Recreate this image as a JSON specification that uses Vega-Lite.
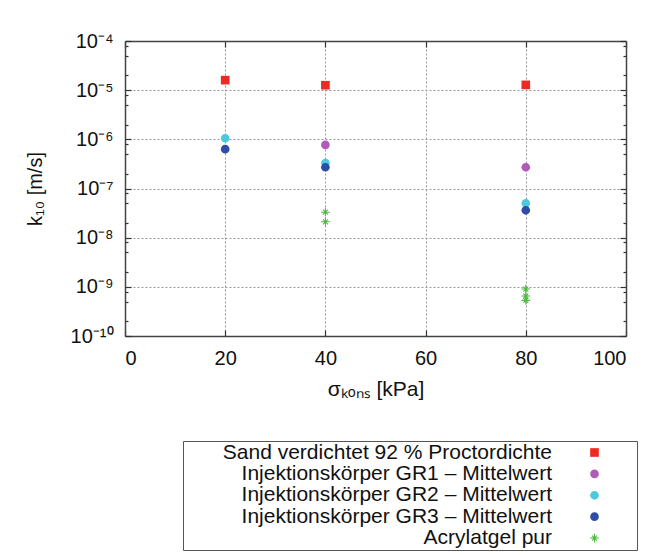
{
  "$schema": "https://vega.github.io/schema/vega-lite/v6.json",
  "width": 501,
  "height": 295,
  "autosize": {"type": "none"},
  "padding": {"left": 125, "top": 41, "right": 26, "bottom": 219},
  "background": "white",
  "config": {
    "font": "Liberation Sans",
    "view": {"stroke": null},
    "axis": {"labelFont": "Liberation Sans", "titleFont": "Liberation Sans", "labelColor": "#111", "titleColor": "#111", "titleFontWeight": "normal", "domainColor": "#444", "domainWidth": 1.5, "tickColor": "#333", "tickWidth": 1.2}
  },
  "data": {"values": [
    {"x": 20, "k": 1.6e-5, "series": "Sand verdichtet 92 % Proctordichte"},
    {"x": 40, "k": 1.26e-5, "series": "Sand verdichtet 92 % Proctordichte"},
    {"x": 80, "k": 1.28e-5, "series": "Sand verdichtet 92 % Proctordichte"},
    {"x": 40, "k": 7.7e-7, "series": "Injektionskörper GR1 – Mittelwert"},
    {"x": 80, "k": 2.7e-7, "series": "Injektionskörper GR1 – Mittelwert"},
    {"x": 20, "k": 1.05e-6, "series": "Injektionskörper GR2 – Mittelwert"},
    {"x": 40, "k": 3.3e-7, "series": "Injektionskörper GR2 – Mittelwert"},
    {"x": 80, "k": 5.0e-8, "series": "Injektionskörper GR2 – Mittelwert"},
    {"x": 20, "k": 6.3e-7, "series": "Injektionskörper GR3 – Mittelwert"},
    {"x": 40, "k": 2.7e-7, "series": "Injektionskörper GR3 – Mittelwert"},
    {"x": 80, "k": 3.6e-8, "series": "Injektionskörper GR3 – Mittelwert"},
    {"x": 40, "k": 3.3e-8, "series": "Acrylatgel pur"},
    {"x": 40, "k": 2.1e-8, "series": "Acrylatgel pur"},
    {"x": 80, "k": 9.0e-10, "series": "Acrylatgel pur"},
    {"x": 80, "k": 6.5e-10, "series": "Acrylatgel pur"},
    {"x": 80, "k": 5.3e-10, "series": "Acrylatgel pur"}
  ]},
  "resolve": {"axis": {"x": "independent", "y": "independent"}},
  "layer": [
    {
      "mark": {"type": "point", "filled": true, "opacity": 1, "size": 75},
      "encoding": {
        "x": {"field": "x", "type": "quantitative", "scale": {"domain": [0, 100], "nice": false},
          "axis": {"orient": "bottom", "values": [0, 20, 40, 60, 80, 100], "ticks": false, "labelPadding": 12, "labelFontSize": 20, "title": "σₖₒₙₛ [kPa]", "titleFontSize": 21, "titlePadding": 10, "grid": true, "gridColor": "#999", "gridDash": [2, 2], "gridWidth": 1}},
        "y": {"field": "k", "type": "quantitative", "scale": {"type": "log", "domain": [1e-10, 1e-4], "nice": false},
          "axis": {"orient": "left", "values": [1e-10, 1e-9, 1e-8, 1e-7, 1e-6, 1e-5, 1e-4], "ticks": false, "labelPadding": 12, "labelFontSize": 20,
            "labelExpr": "'10⁻' + ['⁰','¹','²','³','⁴','⁵','⁶','⁷','⁸','⁹','¹⁰'][round(-log(datum.value)/LN10)]",
            "title": "k₁₀ [m/s]", "titleFontSize": 20, "titlePadding": 25, "grid": true, "gridColor": "#999", "gridDash": [2, 2], "gridWidth": 1}},
        "color": {"field": "series", "type": "nominal",
          "scale": {"domain": ["Sand verdichtet 92 % Proctordichte", "Injektionskörper GR1 – Mittelwert", "Injektionskörper GR2 – Mittelwert", "Injektionskörper GR3 – Mittelwert", "Acrylatgel pur"],
            "range": ["#ee2a24", "#b25ab8", "#4dc8dd", "#2e4da6", "#4cba3f"]},
          "legend": {"title": null, "orient": "none", "legendX": 58, "legendY": 400, "labelAlign": "right", "labelOffset": -53, "symbolOffset": 400, "labelLimit": 700, "labelFontSize": 21, "labelFont": "Liberation Sans", "labelColor": "#111", "strokeColor": "#555", "padding": 1, "symbolSize": 75, "rowPadding": -0.6, "symbolStrokeWidth": 0}},
        "shape": {"field": "series", "type": "nominal",
          "scale": {"domain": ["Sand verdichtet 92 % Proctordichte", "Injektionskörper GR1 – Mittelwert", "Injektionskörper GR2 – Mittelwert", "Injektionskörper GR3 – Mittelwert", "Acrylatgel pur"],
            "range": [
              "M-91.6,0M9.5,0M-1,-1L1,-1L1,1L-1,1Z",
              "M-91.6,0M9.5,0M1,0A1,1,0,1,1,-1,0A1,1,0,1,1,1,0Z",
              "M-91.6,0M9.5,0M1,0A1,1,0,1,1,-1,0A1,1,0,1,1,1,0Z",
              "M-91.6,0M9.5,0M1,0A1,1,0,1,1,-1,0A1,1,0,1,1,1,0Z",
              "M-91.6,0M9.5,0M-1,-0.12L1,-0.12L1,0.12L-1,0.12ZM-0.12,-1L0.12,-1L0.12,1L-0.12,1ZM-0.481,-0.651L0.651,0.481L0.481,0.651L-0.651,-0.481ZM-0.651,0.481L0.481,-0.651L0.651,-0.481L-0.481,0.651Z"]},
          "legend": {"title": null, "orient": "none", "legendX": 58, "legendY": 400, "labelAlign": "right", "labelOffset": -53, "symbolOffset": 400, "labelLimit": 700, "labelFontSize": 21, "labelFont": "Liberation Sans", "labelColor": "#111", "strokeColor": "#555", "padding": 1, "symbolSize": 75, "rowPadding": -0.6, "symbolStrokeWidth": 0}}
      }
    },
    {
      "mark": {"type": "point", "opacity": 0},
      "encoding": {
        "x": {"field": "x", "type": "quantitative", "scale": {"domain": [0, 100], "nice": false},
          "axis": {"orient": "top", "values": [0, 20, 40, 60, 80, 100], "labels": false, "ticks": true, "tickSize": -6, "title": null, "grid": false}},
        "y": {"field": "k", "type": "quantitative", "scale": {"type": "log", "domain": [1e-10, 1e-4], "nice": false},
          "axis": {"orient": "right", "values": [1e-10, 1e-9, 1e-8, 1e-7, 1e-6, 1e-5, 1e-4], "labels": false, "ticks": true, "tickSize": -6, "title": null, "grid": false}}
      }
    },
    {
      "mark": {"type": "point", "opacity": 0},
      "encoding": {
        "x": {"field": "x", "type": "quantitative", "scale": {"domain": [0, 100], "nice": false},
          "axis": {"orient": "bottom", "values": [0, 20, 40, 60, 80, 100], "labels": false, "ticks": true, "tickSize": -6, "domain": false, "title": null, "grid": false}},
        "y": {"field": "k", "type": "quantitative", "scale": {"type": "log", "domain": [1e-10, 1e-4], "nice": false},
          "axis": {"orient": "left", "values": [1e-10, 1e-9, 1e-8, 1e-7, 1e-6, 1e-5, 1e-4], "labels": false, "ticks": true, "tickSize": -6, "domain": false, "title": null, "grid": false}}
      }
    },
    {
      "mark": {"type": "point", "opacity": 0},
      "encoding": {
        "x": {"field": "x", "type": "quantitative", "scale": {"domain": [0, 100], "nice": false}, "axis": null},
        "y": {"field": "k", "type": "quantitative", "scale": {"type": "log", "domain": [1e-10, 1e-4], "nice": false},
          "axis": {"orient": "left", "values": [2e-10, 5e-10, 8e-10, 2e-9, 5e-9, 8e-9, 2e-8, 5e-8, 8e-8, 2e-7, 5e-7, 8e-7, 2e-6, 5e-6, 8e-6, 2e-5, 5e-5, 8e-5], "labels": false, "ticks": true, "tickSize": -3, "domain": false, "title": null, "grid": false}}
      }
    },
    {
      "mark": {"type": "point", "opacity": 0},
      "encoding": {
        "x": {"field": "x", "type": "quantitative", "scale": {"domain": [0, 100], "nice": false}, "axis": null},
        "y": {"field": "k", "type": "quantitative", "scale": {"type": "log", "domain": [1e-10, 1e-4], "nice": false},
          "axis": {"orient": "right", "values": [2e-10, 5e-10, 8e-10, 2e-9, 5e-9, 8e-9, 2e-8, 5e-8, 8e-8, 2e-7, 5e-7, 8e-7, 2e-6, 5e-6, 8e-6, 2e-5, 5e-5, 8e-5], "labels": false, "ticks": true, "tickSize": -3, "domain": false, "title": null, "grid": false}}
      }
    }
  ]
}
